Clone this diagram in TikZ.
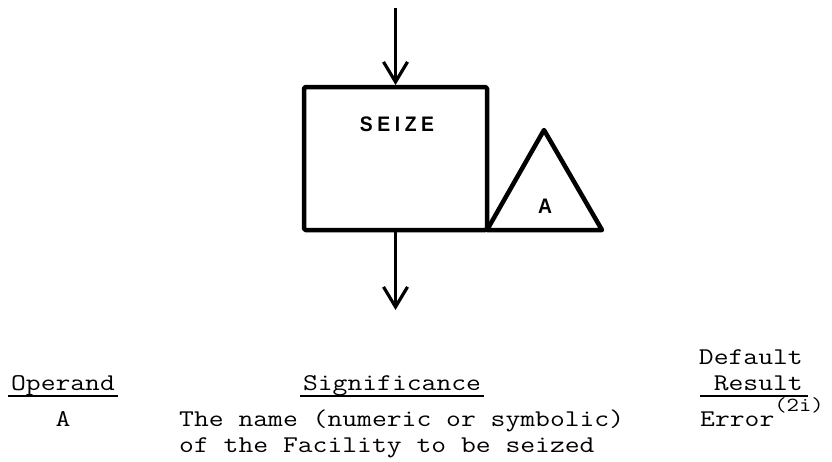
\documentclass[tikz,border=0pt]{standalone}
\usepackage{fontspec}
\usepackage{graphicx}
\usepackage{tikz}
\usetikzlibrary{arrows.meta}
\newfontfamily\blockfont{Liberation Sans}
\newcommand{\typed}[1]{\scalebox{1.2}[1]{#1}}
\newcommand{\blocktext}[1]{\scalebox{0.92}[1]{#1}}

\begin{document}
\begin{tikzpicture}[
  x=1pt,y=-1pt,
  blk/.style={draw,line width=4.5pt,line join=round},
  flow/.style={line width=3.2pt,-{Straight Barb[length=20pt,width=24pt]}},
  lbl/.style={font=\fontsize{21}{23}\selectfont\blockfont\bfseries,inner sep=0pt},
  tt/.style={font=\fontsize{24}{26}\selectfont\ttfamily,inner sep=0pt},
  uline/.style={line width=2pt}
]
\useasboundingbox (0,0) rectangle (832,461);
% block
\node[blk,rounded corners=1.5pt,outer sep=0pt,minimum width=183pt,minimum height=143pt] (seize) at (395.5,158.5) {};
\node[lbl,anchor=base] (name) at (397,131) {\blocktext{S\kern5pt E\kern5pt I\kern5pt Z\kern5pt E}};
\draw[blk] (seize.south east) -- ++(57,-100) coordinate (apex) -- ++(58,100) -- cycle;
\node[lbl,anchor=base] (opa) at (545,213) {\blocktext{A}};
% flow in and out
\coordinate (in) at (395.5,8);
\coordinate (out) at (395.5,310);
\draw[flow] (in) -- ([yshift=2pt]seize.north);
\draw[flow] ([yshift=-2pt]seize.south) -- (out);
% operand table
\node[tt,anchor=base] (opr) at (63,390) {\typed{Operand}};
\node[tt,anchor=base] (sig) at (392,390) {\typed{Significance}};
\node[tt,anchor=base east] (dflt) at (803,364) {\typed{Default}};
\node[tt,anchor=base east] (res) at (803,390) {\typed{Result}};
\draw[uline] ([xshift=-3pt,yshift=-6pt]opr.base west) -- ([xshift=3pt,yshift=-6pt]opr.base east);
\draw[uline] ([xshift=-3pt,yshift=-6pt]sig.base west) -- ([xshift=3pt,yshift=-6pt]sig.base east);
\draw[uline] ([xshift=-14pt,yshift=-6pt]res.base west) -- ([xshift=5pt,yshift=-6pt]res.base east);
\node[tt,anchor=base] (opA) at (63,426) {\typed{A}};
\node[tt,anchor=base west] (sigA) at (179,426) {\typed{The name (numeric or symbolic)}};
\node[tt,anchor=base west] (sigB) at (179,452) {\typed{of the Facility to be seized}};
\node[tt,anchor=base west] (err) at (700,426)
  {\typed{Error}\raisebox{15pt}{\fontsize{20}{20}\selectfont\typed{(2i)}}};
\end{tikzpicture}
\end{document}
